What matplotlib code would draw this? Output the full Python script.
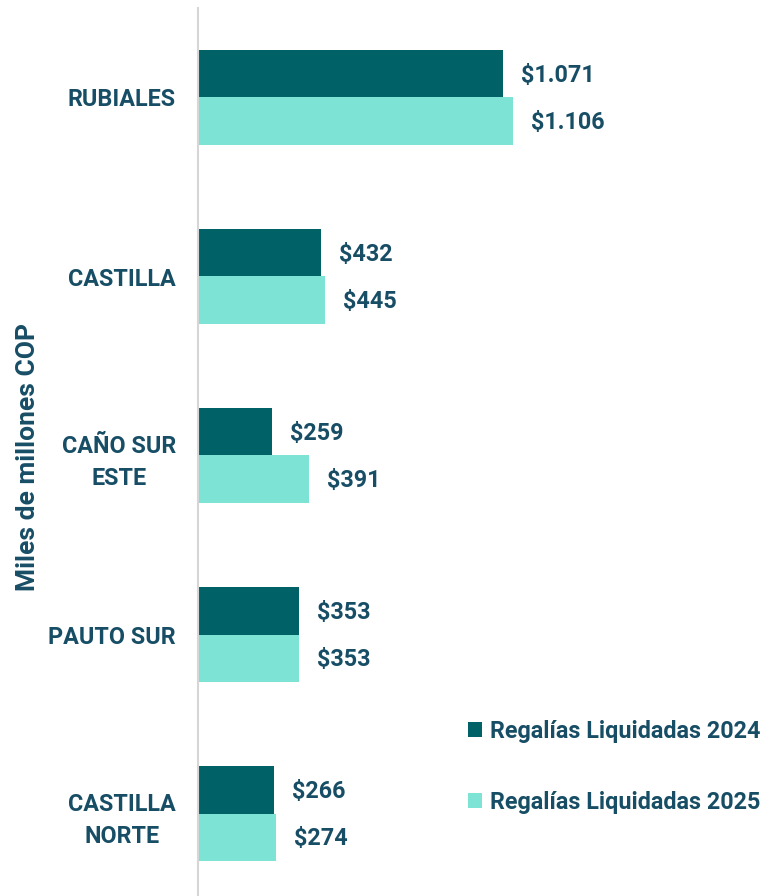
import matplotlib
matplotlib.use('Agg')
import numpy as np
import matplotlib.pyplot as plt

# Data
campos = ['RUBIALES', 'CASTILLA', 'CAÑO SUR\nESTE', 'PAUTO SUR', 'CASTILLA\nNORTE']
reg_2024 = [1071, 432, 259, 353, 266]
reg_2025 = [1106, 445, 391, 353, 274]
lbl_2024 = ['$1.071', '$432', '$259', '$353', '$266']
lbl_2025 = ['$1.106', '$445', '$391', '$353', '$274']

c24 = '#006166'
c25 = '#7DE3D5'
ctxt = '#174E66'
fs = 16.8

plt.rcParams['font.family'] = ['Roboto', 'DejaVu Sans']
plt.rcParams['font.weight'] = 'bold'

fig = plt.figure(figsize=(7.81, 8.96), dpi=100)
ax = fig.add_axes([198/781, -7/896, 583/781, 895/896])

y = np.arange(len(campos))
h = 0.265
b1 = ax.barh(y - h/2, reg_2024, height=h, color=c24, label='Regalías Liquidadas 2024')
b2 = ax.barh(y + h/2, reg_2025, height=h, color=c25, label='Regalías Liquidadas 2025')

for yy, v, t in zip(y - h/2, reg_2024, lbl_2024):
    ax.annotate(t, (v, yy), xytext=(13, -1), textcoords='offset points',
                ha='left', va='center', fontsize=fs, fontweight='bold', color=ctxt)
for yy, v, t in zip(y + h/2, reg_2025, lbl_2025):
    ax.annotate(t, (v, yy), xytext=(13, -1), textcoords='offset points',
                ha='left', va='center', fontsize=fs, fontweight='bold', color=ctxt)

ax.set_ylim(len(campos) - 0.5, -0.5)
ax.set_xlim(0, 583/0.2848)
ax.set_yticks(y)
ax.set_yticklabels(campos, fontsize=fs, fontweight='bold', color=ctxt,
                   multialignment='center', linespacing=1.5)
ax.tick_params(axis='y', length=0, pad=16)
ax.set_xticks([])
for s in ['top', 'right', 'bottom']:
    ax.spines[s].set_visible(False)
ax.spines['left'].set_color('#D6D6D6')
ax.spines['left'].set_linewidth(1.5)

fig.text(28/781, 1 - 457/896, 'Miles de millones COP', rotation=90, ha='center', va='center',
         fontsize=19, fontweight='bold', color=ctxt)

leg = fig.legend(handles=[b1, b2], loc='center left', bbox_to_anchor=(468/781, 1 - 767/896),
                 frameon=False, fontsize=fs, handlelength=0.62, handleheight=0.62,
                 handletextpad=0.32, labelspacing=2.05, borderpad=0, borderaxespad=0)
for t in leg.get_texts():
    t.set_color(ctxt)
    t.set_fontweight('bold')

fig.savefig('out.png', dpi=100)
